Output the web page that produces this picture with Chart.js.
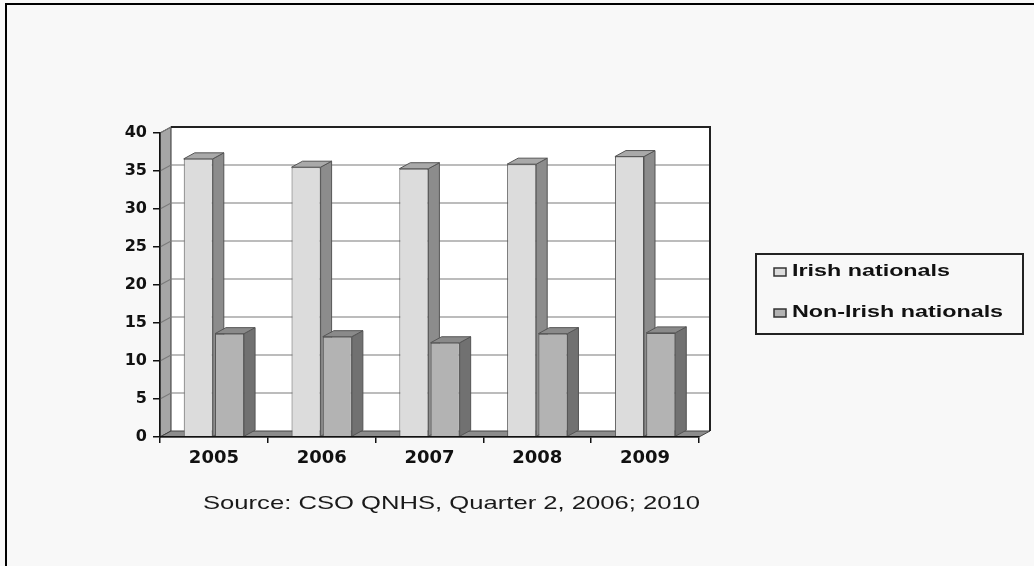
<!DOCTYPE html>
<html>
<head>
<meta charset="utf-8">
<script src="https://cdn.jsdelivr.net/npm/chart.js@4.4.1/dist/chart.umd.min.js"></script>
<style>
    html, body { margin: 0; padding: 0; background: #f8f8f8; }
</style>
</head>
<body>
<canvas id="graficaNacionales" width="1034" height="566"></canvas>
<script>
// Datos
var years = ['2005', '2006', '2007', '2008', '2009'];
var irishNationals = [36.6, 35.5, 35.3, 35.9, 36.9];
var nonIrishNationals = [13.6, 13.2, 12.4, 13.6, 13.7];
var seriesLabels = ['Irish nationals', 'Non-Irish nationals'];
var sourceText = 'Source: CSO QNHS, Quarter 2, 2006; 2010';

// Colores de cada serie: frente, arriba, lado
var coloresFrente = ['#dcdcdc', '#b3b3b3'];
var coloresArriba = ['#a9a9a9', '#8a8a8a'];
var coloresLado = ['#8c8c8c', '#717171'];

var DX = 11, DY = -6; // profundidad del efecto 3d

function poly(ctx, pts, fill, stroke, lw) {
    ctx.beginPath();
    ctx.moveTo(pts[0][0], pts[0][1]);
    for (var i = 1; i < pts.length; i++) ctx.lineTo(pts[i][0], pts[i][1]);
    ctx.closePath();
    if (fill) { ctx.fillStyle = fill; ctx.fill(); }
    if (stroke) { ctx.strokeStyle = stroke; ctx.lineWidth = lw || 1; ctx.stroke(); }
}

var plugin3d = {
    id: 'plugin3d',
    beforeDraw: function(chart) {
        var ctx = chart.ctx;
        ctx.save();
        ctx.fillStyle = '#f8f8f8';
        ctx.fillRect(0, 0, chart.width, chart.height);
        // marco de la imagen (arriba e izquierda)
        ctx.fillStyle = '#000';
        ctx.fillRect(5, 3, chart.width - 5, 2);
        ctx.fillRect(5, 3, 2, chart.height - 3);
        ctx.restore();
    },
    beforeDatasetsDraw: function(chart) {
        var ctx = chart.ctx;
        var a = chart.chartArea;
        var yScale = chart.scales.y;
        var L = a.left, R = a.right, T = a.top, B = a.bottom;
        ctx.save();
        // pared del fondo
        poly(ctx, [[L + DX, T + DY], [R + DX, T + DY], [R + DX, B + DY], [L + DX, B + DY]], '#ffffff', null);
        // pared izquierda
        poly(ctx, [[L, T], [L + DX, T + DY], [L + DX, B + DY], [L, B]], '#a6a6a6', '#333', 1);
        // lineas de la cuadricula
        yScale.ticks.forEach(function(t) {
            var py = yScale.getPixelForValue(t.value);
            if (t.value === 0) return;
            ctx.beginPath();
            ctx.moveTo(L, py);
            ctx.lineTo(L + DX, py + DY);
            ctx.lineTo(R + DX, py + DY);
            ctx.strokeStyle = '#7a7a7a';
            ctx.lineWidth = 1.2;
            ctx.stroke();
        });
        // piso
        poly(ctx, [[L, B], [L + DX, B + DY], [R + DX, B + DY], [R, B]], '#8c8c8c', '#444', 1);
        // borde superior y derecho de la pared
        ctx.beginPath();
        ctx.moveTo(L + DX, T + DY);
        ctx.lineTo(R + DX, T + DY);
        ctx.lineTo(R + DX, B + DY);
        ctx.strokeStyle = '#222';
        ctx.lineWidth = 2;
        ctx.stroke();

        // caras laterales y superiores de las barras
        var n = chart.data.labels.length;
        for (var i = 0; i < n; i++) {
            chart.data.datasets.forEach(function(ds, d) {
                var bar = chart.getDatasetMeta(d).data[i];
                var x1 = bar.x - bar.width / 2, x2 = bar.x + bar.width / 2;
                var y = bar.y, base = bar.base;
                poly(ctx, [[x2, y], [x2 + DX, y + DY], [x2 + DX, base + DY], [x2, base]], coloresLado[d], '#555', 1);
                poly(ctx, [[x1, y], [x1 + DX, y + DY], [x2 + DX, y + DY], [x2, y]], coloresArriba[d], '#555', 1);
            });
        }
        ctx.restore();
    },
    afterDraw: function(chart) {
        var ctx = chart.ctx;
        ctx.save();
        // leyenda
        ctx.strokeStyle = '#222';
        ctx.lineWidth = 2;
        ctx.strokeRect(756, 254, 267, 80);
        ctx.font = 'bold 16px "Liberation Sans"';
        ctx.textBaseline = 'middle';
        var escala = 158 / ctx.measureText(seriesLabels[0]).width;
        var filas = [272, 313];
        chart.data.datasets.forEach(function(ds, d) {
            var cy = filas[d];
            ctx.fillStyle = ds.backgroundColor;
            ctx.fillRect(774, cy - 4, 12, 8);
            ctx.strokeStyle = '#333';
            ctx.lineWidth = 1.5;
            ctx.strokeRect(774, cy - 4, 12, 8);
            ctx.save();
            ctx.translate(792, cy);
            ctx.scale(escala, 1);
            ctx.fillStyle = '#111';
            ctx.fillText(ds.label, 0, 0);
            ctx.restore();
        });
        // fuente
        ctx.font = '19px "Liberation Sans"';
        var esc2 = 497 / ctx.measureText(sourceText).width;
        ctx.translate(203, 504);
        ctx.scale(esc2, 1);
        ctx.fillStyle = '#1a1a1a';
        ctx.fillText(sourceText, 0, 0);
        ctx.restore();
    }
};

document.addEventListener('DOMContentLoaded', function() {
    var ctx = document.getElementById('graficaNacionales').getContext('2d');

    var datasets = [irishNationals, nonIrishNationals].map(function(valores, d) {
        return {
            label: seriesLabels[d],
            data: valores,
            backgroundColor: coloresFrente[d],
            borderColor: '#555',
            borderWidth: 1,
            categoryPercentage: 0.58,
            barPercentage: 0.93
        };
    });

    new Chart(ctx, {
        type: 'bar',
        data: { labels: years, datasets: datasets },
        options: {
            responsive: false,
            animation: false,
            devicePixelRatio: 1,
            layout: { padding: { left: 0, top: 133, right: 335, bottom: 0 } },
            plugins: {
                legend: { display: false },
                tooltip: { enabled: false }
            },
            scales: {
                x: {
                    afterFit: function(scale) { scale.height = 129; },
                    grid: { drawOnChartArea: false, tickLength: 6, color: '#111', lineWidth: 1.5, z: 1 },
                    border: { display: true, color: '#111', width: 1.5, z: 1 },
                    ticks: {
                        color: '#111',
                        padding: 5,
                        font: { family: '"DejaVu Sans"', size: 18, weight: 'bold' }
                    }
                },
                y: {
                    min: 0,
                    max: 40,
                    afterFit: function(scale) { scale.width = 160; },
                    grid: { drawOnChartArea: false, tickLength: 7, color: '#111', lineWidth: 1.5, z: 1 },
                    border: { display: true, color: '#111', width: 1.5, z: 1 },
                    ticks: {
                        stepSize: 5,
                        color: '#111',
                        padding: 6,
                        font: { family: '"DejaVu Sans"', size: 16, weight: 'bold' }
                    }
                }
            }
        },
        plugins: [plugin3d]
    });
});
</script>
</body>
</html>
